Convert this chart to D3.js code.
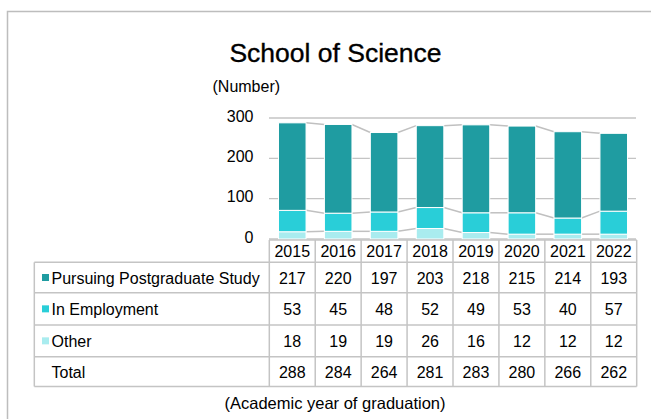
<!DOCTYPE html>
<html><head><meta charset="utf-8">
<script src="https://cdn.jsdelivr.net/npm/d3@7"></script>
<style>body{margin:0;background:#fff}svg{display:block;font-family:"Liberation Sans",Arial,sans-serif}</style>
</head><body>
<svg id="c" width="651" height="419"></svg>
<script>
const years = ["2015","2016","2017","2018","2019","2020","2021","2022"];
const postgrad = [217,220,197,203,218,215,214,193];
const employment = [53,45,48,52,49,53,40,57];
const other = [18,19,19,26,16,12,12,12];
const totals = [288,284,264,281,283,280,266,262];
const yTicks = [0,100,200,300];
const seriesNames = ["Pursuing Postgraduate Study","In Employment","Other"];
const colors = {"Pursuing Postgraduate Study":"#1f9ca1","In Employment":"#29ced8","Other":"#a9ecef"};

const svg = d3.select("#c");
const gridCol = "#c4c4c4";

// outer frame
svg.append("path").attr("d","M7.5,430 V11.5 H660").attr("fill","none").attr("stroke","#bdbdbd").attr("stroke-width",1.5);

svg.append("text").attr("x",335.5).attr("y",61.5).attr("text-anchor","middle")
  .attr("font-size",26.5).attr("fill","#000").attr("stroke","#000").attr("stroke-width",0.35).text("School of Science");
svg.append("text").attr("x",212.5).attr("y",91.5).attr("font-size",16).text("(Number)");

const x = d3.scaleBand().domain(years).range([269.3,636.7]).padding(0);
const y = d3.scaleLinear().domain([0,300]).range([239,118]);
const bw = x.bandwidth()*0.6;

// grid
svg.append("g").selectAll("line").data(yTicks).join("line")
  .attr("x1",269).attr("x2",636).attr("y1",d=>y(d)).attr("y2",d=>y(d))
  .attr("stroke",gridCol).attr("stroke-width",1.3);
svg.append("g").selectAll("text").data(yTicks).join("text")
  .attr("x",253.5).attr("y",d=>y(d)+3.8).attr("text-anchor","end").attr("font-size",16).text(d=>d);

// stack
const rows = years.map((yr,i)=>({year:yr,"Other":other[i],"In Employment":employment[i],"Pursuing Postgraduate Study":postgrad[i]}));
const stack = d3.stack().keys(["Other","In Employment","Pursuing Postgraduate Study"])(rows);

// connectors
stack.forEach(s=>{
  const g = svg.append("g");
  for(let i=0;i<s.length-1;i++){
    const xa = x(years[i])+x.bandwidth()/2+bw/2, xb = x(years[i+1])+x.bandwidth()/2-bw/2;
    g.append("line").attr("x1",xa).attr("y1",y(s[i][1])).attr("x2",xb).attr("y2",y(s[i+1][1]))
      .attr("stroke","#c0c0c0").attr("stroke-width",1.5);
  }
});
stack.forEach(s=>{
  svg.append("g").selectAll("rect").data(s).join("rect")
    .attr("x",(d,i)=>x(years[i])+x.bandwidth()/2-bw/2).attr("width",bw)
    .attr("y",d=>y(d[1])).attr("height",d=>y(d[0])-y(d[1]))
    .attr("fill",colors[s.key]).attr("stroke","#fff").attr("stroke-width",1);
});

// table
const left = 34.3, catRight = 269.3, right = 636.7;
const rowY = [240,262.3,292.7,325,356.7,386.5];
const tg = svg.append("g").attr("stroke",gridCol).attr("stroke-width",1.5);
tg.append("line").attr("x1",catRight).attr("x2",right).attr("y1",rowY[0]).attr("y2",rowY[0]);
rowY.slice(1).forEach(yy=>tg.append("line").attr("x1",left).attr("x2",right).attr("y1",yy).attr("y2",yy));
tg.append("line").attr("x1",left).attr("x2",left).attr("y1",rowY[1]).attr("y2",rowY[5]);
years.forEach(yr=>tg.append("line").attr("x1",x(yr)).attr("x2",x(yr)).attr("y1",rowY[0]).attr("y2",rowY[5]));
tg.append("line").attr("x1",right).attr("x2",right).attr("y1",rowY[0]).attr("y2",rowY[5]);

const fs = 16;
svg.append("g").selectAll("text").data(years).join("text")
  .attr("x",d=>x(d)+x.bandwidth()/2).attr("y",(rowY[0]+rowY[1])/2+6).attr("text-anchor","middle").attr("font-size",fs).text(d=>d);

const tableRows = [
  {name:seriesNames[0],vals:postgrad,color:colors[seriesNames[0]]},
  {name:seriesNames[1],vals:employment,color:colors[seriesNames[1]]},
  {name:seriesNames[2],vals:other,color:colors[seriesNames[2]]},
  {name:"Total",vals:totals,color:null}
];
tableRows.forEach((r,ri)=>{
  const cy = (rowY[ri+1]+rowY[ri+2])/2;
  if(r.color) svg.append("rect").attr("x",42).attr("y",cy-3.5).attr("width",7).attr("height",7).attr("fill",r.color);
  svg.append("text").attr("x",51.5).attr("y",cy+6).attr("font-size",fs).text(r.name);
  svg.append("g").selectAll("text").data(r.vals).join("text")
    .attr("x",(d,i)=>x(years[i])+x.bandwidth()/2).attr("y",cy+6).attr("text-anchor","middle").attr("font-size",fs).text(d=>d);
});

svg.append("text").attr("x",335).attr("y",408.5).attr("text-anchor","middle").attr("font-size",16.5).text("(Academic year of graduation)");
</script>
</body></html>
